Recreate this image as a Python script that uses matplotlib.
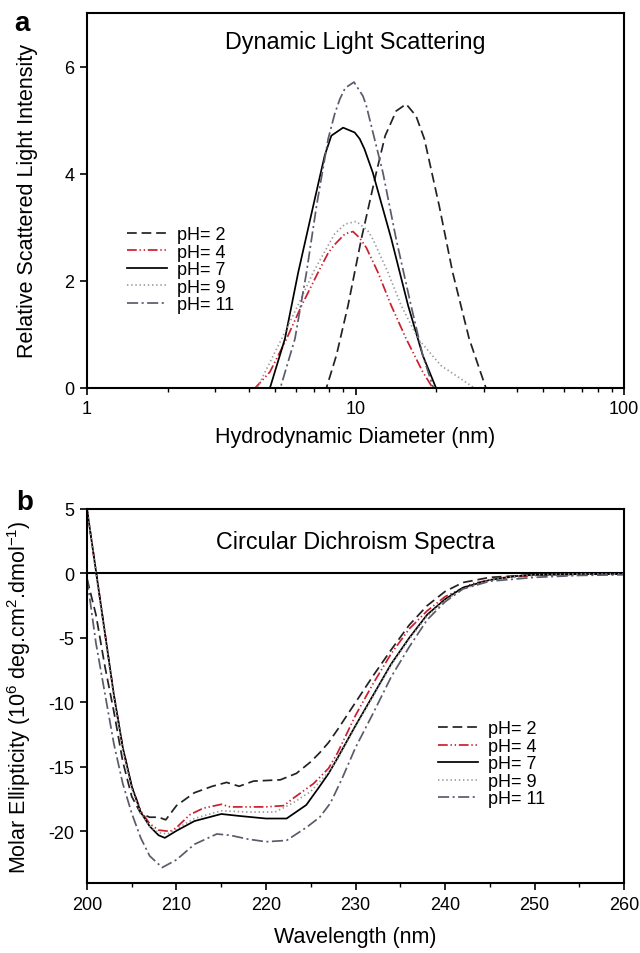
import matplotlib
matplotlib.use("Agg")
import matplotlib.pyplot as plt
from matplotlib.ticker import LogLocator, FixedLocator, NullFormatter, MultipleLocator

plt.rcParams['font.family'] = ['Liberation Sans', 'DejaVu Sans']
plt.rcParams['lines.scale_dashes'] = False
plt.rcParams['axes.unicode_minus'] = False
plt.rcParams['mathtext.fontset'] = 'custom'
plt.rcParams['mathtext.rm'] = 'Liberation Sans'
plt.rcParams['mathtext.it'] = 'Liberation Sans'

labels = ["pH= 2", "pH= 4", "pH= 7", "pH= 9", "pH= 11"]

# ---------------- Panel a: DLS (diameter nm, intensity) ----------------
dls_d_ph2 = [1.0, 7.0, 7.79, 8.49, 9.38, 10.51, 11.95, 12.9, 13.58, 14.17, 15.44, 16.8, 18.05, 20.5,
             23.0, 26.5, 30.6]
dls_i_ph2 = [0.0, 0.0, 0.0, 0.61, 1.54, 2.78, 4.02, 4.71, 4.96, 5.17, 5.30, 5.08, 4.65, 3.40,
             2.16, 0.92, 0.0]

dls_d_ph4 = [1.0, 4.23, 4.80, 5.54, 6.30, 7.26, 7.91, 8.37, 9.15, 9.79, 10.37, 10.97, 12.12, 13.58,
             15.44, 17.8, 19.4]
dls_i_ph4 = [0.0, 0.0, 0.30, 0.92, 1.54, 2.16, 2.52, 2.68, 2.88, 2.92, 2.80, 2.62, 2.16, 1.54,
             0.92, 0.30, 0.0]

dls_d_ph7 = [1.0, 4.80, 5.46, 6.12, 6.96, 7.37, 7.68, 8.13, 8.99, 9.93, 10.37, 10.8, 11.6, 13.6,
             15.7, 17.8, 19.95]
dls_i_ph7 = [0.0, 0.0, 0.92, 2.16, 3.40, 3.95, 4.34, 4.71, 4.86, 4.77, 4.65, 4.46, 4.02, 2.78,
             1.54, 0.61, 0.0]

dls_d_ph9 = [1.0, 4.3, 5.31, 6.1, 6.96, 7.91, 8.37, 9.15, 10.07, 11.1, 11.6, 13.2, 14.8, 17.1,
             20.8, 24.7, 27.7]
dls_i_ph9 = [0.0, 0.0, 0.92, 1.54, 2.16, 2.66, 2.88, 3.06, 3.11, 2.94, 2.78, 2.16, 1.54, 0.92,
             0.42, 0.17, 0.0]

dls_d_ph11 = [1.0, 5.25, 5.95, 6.57, 7.16, 7.91, 8.37, 8.74, 9.15, 9.87, 10.66, 10.97, 12.65, 14.17,
              16.1, 17.8, 19.5]
dls_i_ph11 = [0.0, 0.0, 0.92, 2.16, 3.40, 4.65, 5.12, 5.39, 5.60, 5.71, 5.45, 5.27, 4.02, 2.78,
              1.54, 0.61, 0.0]

# ---------------- Panel b: CD (wavelength nm, ellipticity) ----------------
cd_w_ph2 = [200, 201, 202, 203, 204, 205, 206, 207, 208, 208.8, 210, 212, 214, 215.6, 217, 218.6,
            221.6, 223.4, 225, 226, 227, 228, 230, 232, 234, 236, 238, 240, 242, 245, 250, 255, 260]
cd_v_ph2 = [-0.4, -3.2, -7.2, -10.7, -14.6, -17.3, -18.6, -18.9, -18.9, -19.1, -18.0, -17.0, -16.5, -16.2,
            -16.5, -16.1, -16.0, -15.5, -14.6, -13.9, -13.1, -12.1, -10.0, -7.9, -5.9, -4.0, -2.5, -1.4,
            -0.7, -0.3, -0.1, -0.05, -0.05]

cd_w_ph4 = [200, 201, 202, 203, 204, 205, 206, 207, 208, 209.3, 210, 211.5, 213, 215, 216, 218, 220,
            222, 223.1, 225.3, 227, 228, 230, 232, 234, 236, 238, 240, 243, 246, 250, 255, 260]
cd_v_ph4 = [5.0, 0.2, -4.6, -9.4, -13.5, -16.5, -18.4, -19.4, -19.9, -20.0, -19.7, -18.7, -18.2, -17.9,
            -18.1, -18.1, -18.1, -18.0, -17.4, -16.3, -15.1, -13.9, -11.0, -8.5, -6.2, -4.3, -2.9, -1.8,
            -0.8, -0.35, -0.15, -0.05, -0.05]

cd_w_ph7 = [200, 201, 202, 203, 204, 205, 206, 207, 208, 208.7, 210, 212, 215, 217, 220, 222.3, 224.5,
            226, 227, 228, 230, 232, 234, 236, 238, 240, 242, 245, 248, 250, 255, 260]
cd_v_ph7 = [5.0, 0.2, -4.6, -9.4, -13.5, -16.5, -18.5, -19.6, -20.3, -20.5, -19.95, -19.2, -18.65, -18.8,
            -19.0, -19.0, -17.95, -16.5, -15.5, -14.3, -11.8, -9.4, -7.0, -5.0, -3.2, -2.0, -1.1, -0.5,
            -0.2, -0.1, -0.05, -0.05]

cd_w_ph9 = [200, 201, 202, 203, 204, 205, 206, 207, 208, 209, 210, 212, 215, 218, 221, 223, 225, 227,
            228, 230, 232, 234, 236, 238, 240, 242, 245, 248, 250, 255, 260]
cd_v_ph9 = [5.0, 0.0, -4.8, -9.6, -13.7, -16.7, -18.6, -19.6, -20.1, -20.2, -19.8, -19.0, -18.4, -18.5,
            -18.5, -17.8, -16.9, -15.4, -14.4, -11.9, -9.5, -7.1, -5.1, -3.3, -2.1, -1.2, -0.5, -0.2,
            -0.1, -0.05, -0.05]

cd_w_ph11 = [200, 201, 202, 203, 204, 205, 206, 207, 208.4, 210, 212, 214.5, 216, 218, 220, 222.3,
             224.5, 226, 227.2, 228.5, 230, 232, 234, 236, 238, 240, 242, 245, 250, 255, 260]
cd_v_ph11 = [-0.4, -5.4, -9.3, -13.2, -16.3, -18.6, -20.5, -21.9, -22.8, -22.2, -21.0, -20.2, -20.3,
             -20.6, -20.8, -20.7, -19.7, -18.9, -17.8, -15.9, -13.5, -10.8, -8.0, -5.7, -3.6, -2.2,
             -1.2, -0.6, -0.3, -0.15, -0.1]

styles = [
    dict(color='#222222', dashes=(7, 3.5)),
    dict(color='#cc1f2e', dashes=(7, 2, 1, 2, 1, 2)),
    dict(color='#000000', linestyle='-'),
    dict(color='#9a9a9a', dashes=(1, 2)),
    dict(color='#5b5b6b', dashes=(8, 2.5, 1.5, 2.5)),
]

fig = plt.figure(figsize=(6.4, 9.54), dpi=100)
L, R = 87 / 640, 624 / 640
axa = fig.add_axes([L, 1 - 389 / 954, R - L, (389 - 14) / 954])
axb = fig.add_axes([L, 1 - 884 / 954, R - L, (884 - 510) / 954])

dls = [(dls_d_ph2, dls_i_ph2), (dls_d_ph4, dls_i_ph4), (dls_d_ph7, dls_i_ph7),
       (dls_d_ph9, dls_i_ph9), (dls_d_ph11, dls_i_ph11)]
for (d, v), lab, st in zip(dls, labels, styles):
    axa.plot(d, v, lw=1.25, label=lab, **st)

axa.set_xscale('log')
axa.set_xlim(1, 100)
axa.set_ylim(0, 7)
axa.set_yticks([0, 2, 4, 6])
axa.xaxis.set_major_locator(FixedLocator([1, 10, 100]))
axa.set_xticklabels(['1', '10', '100'])
axa.xaxis.set_minor_locator(LogLocator(base=10, subs=range(2, 10)))
axa.xaxis.set_minor_formatter(NullFormatter())
axa.set_xlabel('Hydrodynamic Diameter (nm)', fontsize=15.5, labelpad=6)
axa.set_ylabel('Relative Scattered Light Intensity', fontsize=15.5, labelpad=19)
axa.text(0.5, 0.923, 'Dynamic Light Scattering', transform=axa.transAxes,
         ha='center', va='center', fontsize=16.8)
axa.legend(loc='upper left', bbox_to_anchor=(0.075, 0.432), frameon=False, fontsize=13,
           handlelength=2.2, handletextpad=0.55, labelspacing=0.03, borderpad=0, borderaxespad=0)
fig.text(14 / 640, 1 - 24 / 954, 'a', fontsize=20, fontweight='bold', va='center', ha='left')

cd = [(cd_w_ph2, cd_v_ph2), (cd_w_ph4, cd_v_ph4), (cd_w_ph7, cd_v_ph7),
      (cd_w_ph9, cd_v_ph9), (cd_w_ph11, cd_v_ph11)]
for (w, v), lab, st in zip(cd, labels, styles):
    axb.plot(w, v, lw=1.25, label=lab, **st)
axb.axhline(0, color='black', lw=1.5, zorder=1)
axb.set_xlim(200, 260)
axb.set_ylim(-24, 5)
axb.set_yticks([5, 0, -5, -10, -15, -20])
axb.xaxis.set_major_locator(MultipleLocator(10))
axb.xaxis.set_minor_locator(MultipleLocator(5))
axb.set_xlabel('Wavelength (nm)', fontsize=15.5, labelpad=10)
axb.set_ylabel('Molar Ellipticity (10$^6$ deg.cm$^2$.dmol$^{-1}$)', fontsize=15.5, labelpad=11)
axb.text(0.5, 0.914, 'Circular Dichroism Spectra', transform=axb.transAxes,
         ha='center', va='center', fontsize=16.8)
axb.legend(loc='upper left', bbox_to_anchor=(0.654, 0.435), frameon=False, fontsize=13,
           handlelength=2.2, handletextpad=0.55, labelspacing=0.03, borderpad=0, borderaxespad=0)
fig.text(16 / 640, 1 - 503 / 954, 'b', fontsize=20, fontweight='bold', va='center', ha='left')

for ax in (axa, axb):
    for s in ax.spines.values():
        s.set_linewidth(1.5)
    ax.tick_params(axis='both', which='major', direction='out', length=5, width=1.2,
                   labelsize=13, colors='black', pad=4)
    ax.tick_params(axis='both', which='minor', direction='out', length=3, width=1.0)

fig.savefig('out.png', dpi=100)
